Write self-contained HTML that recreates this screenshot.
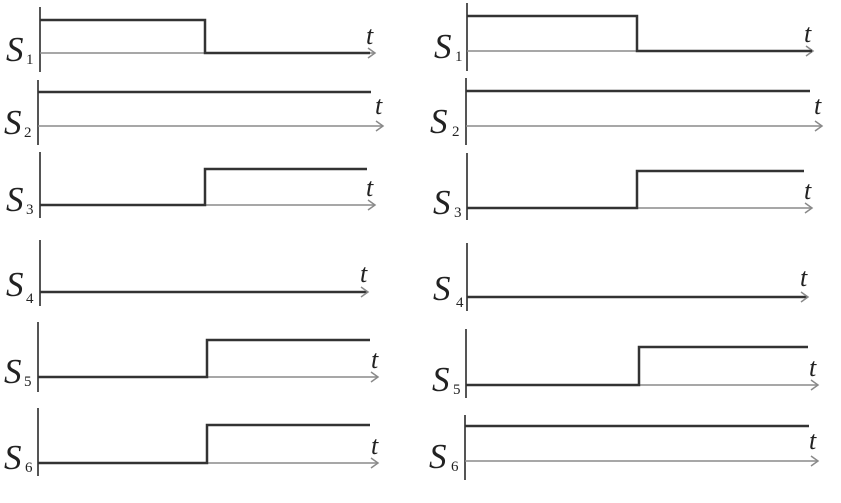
<!DOCTYPE html>
<html><head><style>
html,body{margin:0;padding:0;background:#fff;width:841px;height:503px;overflow:hidden}
svg{display:block}
text{font-family:"Liberation Serif",serif;fill:#222}
.S{font-size:35px;font-style:italic}
.sub{font-size:15px}
.t{font-size:26px;font-style:italic}
.ax{stroke:#8a8a8a;stroke-width:1.5;fill:none}
.v{stroke:#555;stroke-width:2;fill:none}
.sig{stroke:#333;stroke-width:2.5;fill:none}
</style></head><body>
<svg width="841" height="503" viewBox="0 0 841 503">
<defs>
<g id="arr"><path d="M-7,-5 L0,0 L-7,5" class="ax"/></g>
</defs>
<g>
<line x1="40" y1="7" x2="40" y2="72" class="v"/>
<line x1="40" y1="53" x2="374" y2="53" class="ax"/><use href="#arr" x="375" y="53"/>
<polyline points="40,20 205,20 205,53 370,53" class="sig"/>
<text x="6" y="61" class="S">S</text><text x="26" y="64" class="sub">1</text>
<text x="366" y="44" class="t">t</text>
<line x1="38" y1="80" x2="38" y2="145" class="v"/>
<line x1="38" y1="126" x2="382" y2="126" class="ax"/><use href="#arr" x="383" y="126"/>
<polyline points="38,92 371,92" class="sig"/>
<text x="4" y="134" class="S">S</text><text x="24" y="137" class="sub">2</text>
<text x="375" y="114" class="t">t</text>
<line x1="40" y1="152" x2="40" y2="218" class="v"/>
<line x1="40" y1="205" x2="374" y2="205" class="ax"/><use href="#arr" x="375" y="205"/>
<polyline points="40,205 205,205 205,169 367,169" class="sig"/>
<text x="6" y="211" class="S">S</text><text x="26" y="214" class="sub">3</text>
<text x="366" y="196" class="t">t</text>
<line x1="40" y1="240" x2="40" y2="306" class="v"/>
<polyline points="40,292 367,292" class="sig"/><use href="#arr" x="368" y="292"/>
<text x="6" y="296" class="S">S</text><text x="26" y="303" class="sub">4</text>
<text x="360" y="282" class="t">t</text>
<line x1="38" y1="322" x2="38" y2="392" class="v"/>
<line x1="38" y1="377" x2="377" y2="377" class="ax"/><use href="#arr" x="378" y="377"/>
<polyline points="38,377 207,377 207,340 370,340" class="sig"/>
<text x="4" y="383" class="S">S</text><text x="24" y="386" class="sub">5</text>
<text x="371" y="368" class="t">t</text>
<line x1="38" y1="408" x2="38" y2="476" class="v"/>
<line x1="38" y1="463" x2="377" y2="463" class="ax"/><use href="#arr" x="378" y="463"/>
<polyline points="38,463 207,463 207,425 370,425" class="sig"/>
<text x="4" y="469" class="S">S</text><text x="25" y="472" class="sub">6</text>
<text x="371" y="454" class="t">t</text>
</g>
<g>
<line x1="467" y1="3" x2="467" y2="71" class="v"/>
<line x1="467" y1="51" x2="812" y2="51" class="ax"/><use href="#arr" x="813" y="51"/>
<polyline points="467,16 637,16 637,51 812,51" class="sig"/>
<text x="434" y="58" class="S">S</text><text x="455" y="61" class="sub">1</text>
<text x="804" y="42" class="t">t</text>
<line x1="466" y1="78" x2="466" y2="145" class="v"/>
<line x1="466" y1="126" x2="821" y2="126" class="ax"/><use href="#arr" x="822" y="126"/>
<polyline points="466,91 810,91" class="sig"/>
<text x="430" y="133" class="S">S</text><text x="452" y="136" class="sub">2</text>
<text x="814" y="114" class="t">t</text>
<line x1="467" y1="153" x2="467" y2="220" class="v"/>
<line x1="467" y1="208" x2="811" y2="208" class="ax"/><use href="#arr" x="812" y="208"/>
<polyline points="467,208 637,208 637,171 804,171" class="sig"/>
<text x="433" y="214" class="S">S</text><text x="454" y="217" class="sub">3</text>
<text x="804" y="199" class="t">t</text>
<line x1="467" y1="243" x2="467" y2="311" class="v"/>
<polyline points="467,297 807,297" class="sig"/><use href="#arr" x="808" y="297"/>
<text x="433" y="300" class="S">S</text><text x="456" y="307" class="sub">4</text>
<text x="800" y="286" class="t">t</text>
<line x1="466" y1="329" x2="466" y2="398" class="v"/>
<line x1="466" y1="385" x2="817" y2="385" class="ax"/><use href="#arr" x="818" y="385"/>
<polyline points="466,385 639,385 639,347 808,347" class="sig"/>
<text x="432" y="391" class="S">S</text><text x="453" y="394" class="sub">5</text>
<text x="809" y="376" class="t">t</text>
<line x1="465" y1="415" x2="465" y2="480" class="v"/>
<line x1="465" y1="461" x2="817" y2="461" class="ax"/><use href="#arr" x="818" y="461"/>
<polyline points="465,426 809,426" class="sig"/>
<text x="429" y="468" class="S">S</text><text x="451" y="471" class="sub">6</text>
<text x="809" y="449" class="t">t</text>
</g>
</svg>
</body></html>
